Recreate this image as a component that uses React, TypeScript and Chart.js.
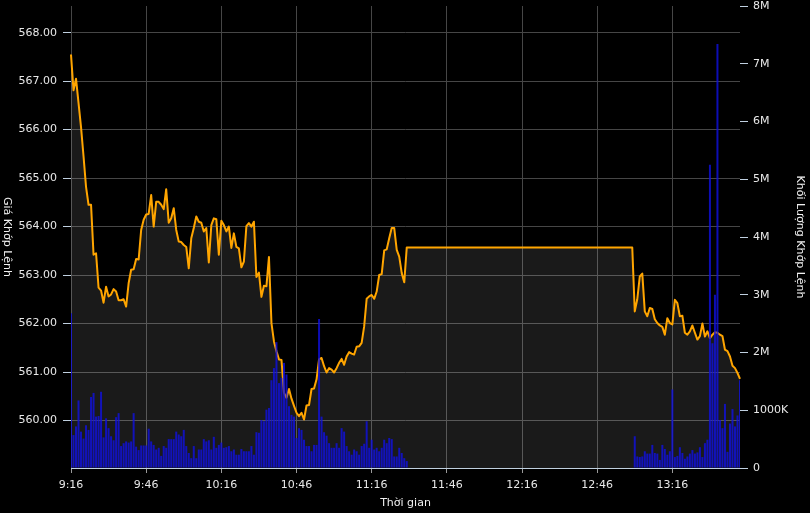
import React, { useEffect, useRef } from 'react';
import { Chart, registerables } from 'chart.js';

Chart.register(...registerables);

// ---- Categories: one label per minute, 9:16 .. 13:43 ----
const START_MINUTE = 9 * 60 + 16;
const END_MINUTE = 13 * 60 + 43;
const timeLabels: string[] = [];
for (let m = START_MINUTE; m <= END_MINUTE; m++) {
  timeLabels.push(`${Math.floor(m / 60)}:${String(m % 60).padStart(2, '0')}`);
}

// ---- Price (Giá Khớp Lệnh): 9:16 .. 11:30 ----
const morningPrices = [
  567.55, 566.81, 567.05, 566.55, 566.05, 565.45, 564.82, 564.45, 564.45, 563.42,
  563.45, 562.74, 562.68, 562.43, 562.76, 562.56, 562.6, 562.71, 562.66, 562.48,
  562.48, 562.5, 562.35, 562.83, 563.11, 563.12, 563.33, 563.32, 563.93, 564.14,
  564.25, 564.26, 564.65, 564.0, 564.51, 564.51, 564.45, 564.36, 564.77, 564.08,
  564.17, 564.38, 563.93, 563.69, 563.68, 563.62, 563.58, 563.14, 563.76, 563.97,
  564.21, 564.1, 564.08, 563.9, 563.97, 563.26, 564.03, 564.17, 564.15, 563.42,
  564.12, 564.03, 563.9, 564.0, 563.56, 563.86, 563.58, 563.55, 563.16, 563.28,
  564.01, 564.07, 564.0, 564.1, 562.96, 563.05, 562.55, 562.78, 562.77, 563.37,
  562.01, 561.63, 561.43, 561.26, 561.25, 560.57, 560.47, 560.65, 560.45, 560.3,
  560.16, 560.09, 560.16, 560.02, 560.31, 560.32, 560.65, 560.66, 560.85, 561.26,
  561.29, 561.12, 560.99, 561.08, 561.05, 560.99, 561.08, 561.19, 561.27, 561.15,
  561.32, 561.41, 561.38, 561.36, 561.52, 561.53, 561.6, 561.94, 562.51, 562.56,
  562.59, 562.51, 562.66, 563.0, 563.02, 563.51, 563.53, 563.76, 563.97, 563.97,
  563.52, 563.38, 563.04, 562.85, 563.57,
];
// ---- lunch break 11:31 .. 12:59: no trades ----
const LUNCH_MINUTES = 89;
const lunchGap: (number | null)[] = Array(LUNCH_MINUTES).fill(null);
// ---- Price: 13:00 .. 13:43 ----
const afternoonPrices = [
  563.57, 562.25, 562.5, 562.97, 563.03, 562.25, 562.15, 562.32, 562.3, 562.09,
  562.01, 561.96, 561.93, 561.77, 562.11, 562.01, 561.98, 562.49, 562.42, 562.15,
  562.16, 561.81, 561.77, 561.84, 561.96, 561.81, 561.67, 561.74, 562.0, 561.73,
  561.84, 561.7, 561.77, 561.82, 561.81, 561.77, 561.74, 561.46, 561.43, 561.32,
  561.13, 561.08, 560.98, 560.86,
];

// ---- Volume (Khối Lượng Khớp Lệnh), in thousands ----
const morningVolumes = [
  2680, 570, 720, 1170, 630, 510, 740, 660, 1230, 1300,
  890, 900, 1320, 530, 860, 690, 550, 480, 880, 950,
  380, 430, 460, 440, 460, 950, 370, 310, 390, 390,
  390, 680, 460, 400, 320, 350, 210, 380, 350, 500,
  500, 500, 630, 580, 550, 660, 380, 260, 170, 380,
  170, 320, 320, 500, 460, 480, 320, 540, 350, 400,
  440, 350, 360, 380, 290, 320, 230, 230, 330, 290,
  290, 290, 380, 230, 620, 610, 830, 810, 1010, 1040,
  1520, 1730, 2180, 1470, 1560, 1820, 1620, 1070, 920, 890,
  520, 690, 660, 490, 380, 380, 290, 400, 400, 2580,
  890, 620, 560, 430, 350, 350, 430, 350, 690, 630,
  380, 290, 230, 320, 290, 230, 380, 420, 810, 350,
  490, 320, 350, 290, 350, 490, 430, 520, 500, 200,
  200, 350, 260, 170, 120,
];
const afternoonVolumes = [
  null, 550, 200, 190, 200, 290, 250, 250, 400, 260,
  250, 140, 400, 330, 230, 290, 1360, 190, 210, 360,
  260, 160, 200, 250, 310, 250, 270, 360, 190, 430,
  490, 5250, 2160, 3000, 7340, 830, 690, 1110, 280, 770,
  1020, 720, 910, 1520,
];

// ---- Tick labels ----
const priceTicks = [560, 561, 562, 563, 564, 565, 566, 567, 568];
const volumeTicks = [0, 1000, 2000, 3000, 4000, 5000, 6000, 7000, 8000];
const LABEL_EVERY_MINUTES = 30;

const PRICE_TITLE = 'Giá Khớp Lệnh';
const VOLUME_TITLE = 'Khối Lượng Khớp Lệnh';
const TIME_TITLE = 'Thời gian';

const priceSeries = [...morningPrices, ...lunchGap, ...afternoonPrices];
const volumeSeries = [...morningVolumes, ...lunchGap, ...afternoonVolumes];

const tradedPrices = [...morningPrices, ...afternoonPrices];
const priceMin = Math.min(...tradedPrices) - 1;
const priceMax = Math.max(...tradedPrices) + 1;

const FONT = { family: '"DejaVu Sans", Verdana, sans-serif', size: 11 };
const TEXT = '#e8e8e8';
const GRID = '#464646';
const AXIS_TICK = '#c0d0e0';

const bgPlugin = {
  id: 'blackBg',
  beforeDraw(chart: any) {
    const { ctx, width, height } = chart;
    ctx.save();
    ctx.fillStyle = '#000';
    ctx.fillRect(0, 0, width, height);
    ctx.restore();
  },
};

const titlesPlugin = {
  id: 'axisTitles',
  afterDraw(chart: any) {
    const { ctx, chartArea } = chart;
    const cy = (chartArea.top + chartArea.bottom) / 2;
    ctx.save();
    ctx.fillStyle = '#f0f0f0';
    ctx.font = `11px ${FONT.family}`;
    ctx.textAlign = 'center';
    ctx.textBaseline = 'middle';
    ctx.save();
    ctx.translate(7, cy);
    ctx.rotate(Math.PI / 2);
    ctx.fillText(PRICE_TITLE, 0, 0);
    ctx.restore();
    ctx.save();
    ctx.translate(800, cy);
    ctx.rotate(Math.PI / 2);
    ctx.fillText(VOLUME_TITLE, 0, 0);
    ctx.restore();
    ctx.fillText(TIME_TITLE, (chartArea.left + chartArea.right) / 2, 503);
    ctx.restore();
  },
};

export default function App() {
  const canvasRef = useRef<HTMLCanvasElement | null>(null);

  useEffect(() => {
    document.body.style.margin = '0';
    document.body.style.background = '#000';
    const canvas = canvasRef.current;
    if (!canvas) return;
    const chart = new Chart(canvas, {
      type: 'bar',
      data: {
        labels: timeLabels,
        datasets: [
          {
            type: 'line',
            label: PRICE_TITLE,
            data: priceSeries,
            yAxisID: 'y',
            borderColor: '#FFA500',
            borderWidth: 2,
            backgroundColor: 'rgba(255,255,255,0.1)',
            fill: 'start',
            pointRadius: 0,
            tension: 0,
            spanGaps: true,
            borderJoinStyle: 'round',
            order: 2,
          } as any,
          {
            type: 'bar',
            label: VOLUME_TITLE,
            data: volumeSeries,
            yAxisID: 'y1',
            backgroundColor: 'rgba(16,16,225,0.8)',
            borderWidth: 0,
            categoryPercentage: 1,
            barPercentage: 0.8,
            order: 1,
          } as any,
        ],
      },
      options: {
        animation: false,
        responsive: false,
        maintainAspectRatio: false,
        layout: { padding: { top: 6, left: 0, right: 0, bottom: 0 } },
        plugins: {
          legend: { display: false },
          tooltip: { enabled: false },
        },
        scales: {
          x: {
            type: 'category',
            offset: false,
            grid: {
              offset: false,
              color: GRID,
              lineWidth: 1,
              tickLength: 5,
              tickColor: '#9a9a9a',
            },
            border: { display: true, color: AXIS_TICK, width: 1 },
            ticks: {
              autoSkip: false,
              maxRotation: 0,
              minRotation: 0,
              color: TEXT,
              font: FONT,
              padding: 6,
            },
            afterBuildTicks: (s: any) => {
              s.ticks = s.ticks.filter((t: any) => t.value % LABEL_EVERY_MINUTES === 0);
            },
            afterFit: (s: any) => {
              s.height = 45;
              s.paddingLeft = 0;
              s.paddingRight = 0;
            },
          },
          y: {
            position: 'left',
            min: priceMin,
            max: priceMax,
            grid: { color: GRID, lineWidth: 1, tickLength: 8, tickColor: AXIS_TICK },
            border: { display: false },
            ticks: {
              color: TEXT,
              font: FONT,
              padding: 6,
              callback: (v: any) => Number(v).toFixed(2),
            },
            afterBuildTicks: (s: any) => {
              s.ticks = priceTicks.map((v) => ({ value: v }));
            },
            afterFit: (s: any) => {
              s.width = 71;
              s.paddingTop = 0;
              s.paddingBottom = 0;
            },
          },
          y1: {
            position: 'right',
            min: 0,
            max: 8000,
            grid: { drawOnChartArea: false, tickLength: 8, tickColor: AXIS_TICK },
            border: { display: false },
            ticks: {
              color: TEXT,
              font: FONT,
              padding: 5,
              callback: (v: any) => {
                const n = Number(v);
                if (n === 0) return '0';
                if (n <= 1000) return `${n}K`;
                return `${n / 1000}M`;
              },
            },
            afterBuildTicks: (s: any) => {
              s.ticks = volumeTicks.map((v) => ({ value: v }));
            },
            afterFit: (s: any) => {
              s.width = 70;
              s.paddingTop = 0;
              s.paddingBottom = 0;
            },
          },
        },
      } as any,
      plugins: [bgPlugin, titlesPlugin],
    });
    return () => chart.destroy();
  }, []);

  return (
    <div style={{ width: 810, height: 513, background: '#000' }}>
      <canvas ref={canvasRef} width={810} height={513} style={{ display: 'block' }} />
    </div>
  );
}
